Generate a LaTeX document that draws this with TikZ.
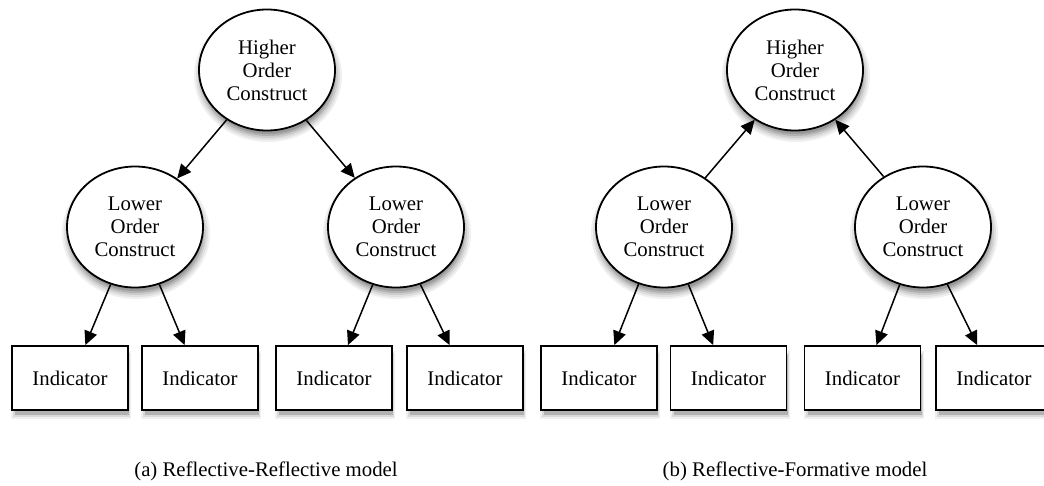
\documentclass[tikz,border=0pt]{standalone}
\usepackage{fontspec}
\setmainfont{Liberation Serif}
\usetikzlibrary{shapes.geometric,arrows.meta}
\begin{document}
\begin{tikzpicture}[x=1pt,y=-1pt,
  font=\fontsize{20.8}{23}\selectfont,
  construct/.style={ellipse,draw=black,line width=1.8pt,fill=white,
    minimum width=136pt,minimum height=121pt,inner sep=0pt,align=center},
  indicator/.style={rectangle,draw=black,line width=1.8pt,fill=white,
    minimum width=116pt,minimum height=64pt,inner sep=0pt},
  link/.style={line width=1.5pt,-{Triangle[length=14pt,width=13pt]}},
  caption/.style={inner sep=0pt}]
\useasboundingbox (0,0) rectangle (1044,485);

% ---------- soft drop shadows (solid greys, light to dark) ----------
% higher order (a)
\fill[black!6]  (268,76) ellipse [x radius=74, y radius=66];
\fill[black!12] (268,76) ellipse [x radius=72, y radius=64];
\fill[black!20] (268,76) ellipse [x radius=70, y radius=62];
\fill[black!30] (268,76) ellipse [x radius=68, y radius=60];
\fill[black!40] (268,76) ellipse [x radius=66, y radius=58];
% lower order (a) left
\fill[black!6]  (136,233) ellipse [x radius=74, y radius=66];
\fill[black!12] (136,233) ellipse [x radius=72, y radius=64];
\fill[black!20] (136,233) ellipse [x radius=70, y radius=62];
\fill[black!30] (136,233) ellipse [x radius=68, y radius=60];
\fill[black!40] (136,233) ellipse [x radius=66, y radius=58];
% lower order (a) right
\fill[black!6]  (397,233) ellipse [x radius=74, y radius=66];
\fill[black!12] (397,233) ellipse [x radius=72, y radius=64];
\fill[black!20] (397,233) ellipse [x radius=70, y radius=62];
\fill[black!30] (397,233) ellipse [x radius=68, y radius=60];
\fill[black!40] (397,233) ellipse [x radius=66, y radius=58];
% higher order (b)
\fill[black!6]  (796,76) ellipse [x radius=74, y radius=66];
\fill[black!12] (796,76) ellipse [x radius=72, y radius=64];
\fill[black!20] (796,76) ellipse [x radius=70, y radius=62];
\fill[black!30] (796,76) ellipse [x radius=68, y radius=60];
\fill[black!40] (796,76) ellipse [x radius=66, y radius=58];
% lower order (b) left
\fill[black!6]  (665,233) ellipse [x radius=74, y radius=66];
\fill[black!12] (665,233) ellipse [x radius=72, y radius=64];
\fill[black!20] (665,233) ellipse [x radius=70, y radius=62];
\fill[black!30] (665,233) ellipse [x radius=68, y radius=60];
\fill[black!40] (665,233) ellipse [x radius=66, y radius=58];
% lower order (b) right
\fill[black!6]  (924,233) ellipse [x radius=74, y radius=66];
\fill[black!12] (924,233) ellipse [x radius=72, y radius=64];
\fill[black!20] (924,233) ellipse [x radius=70, y radius=62];
\fill[black!30] (924,233) ellipse [x radius=68, y radius=60];
\fill[black!40] (924,233) ellipse [x radius=66, y radius=58];
% indicator boxes
\fill[black!6]  (11,351) rectangle (131,419);
\fill[black!15] (13,353) rectangle (130,417);
\fill[black!30] (15,355) rectangle (129,415);
\fill[black!6]  (141,351) rectangle (261,419);
\fill[black!15] (143,353) rectangle (260,417);
\fill[black!30] (145,355) rectangle (259,415);
\fill[black!6]  (275,351) rectangle (395,419);
\fill[black!15] (277,353) rectangle (394,417);
\fill[black!30] (279,355) rectangle (393,415);
\fill[black!6]  (406,351) rectangle (526,419);
\fill[black!15] (408,353) rectangle (525,417);
\fill[black!30] (410,355) rectangle (524,415);
\fill[black!6]  (540,351) rectangle (660,419);
\fill[black!15] (542,353) rectangle (659,417);
\fill[black!30] (544,355) rectangle (658,415);
\fill[black!6]  (669.5,351) rectangle (789.5,419);
\fill[black!15] (671.5,353) rectangle (788.5,417);
\fill[black!30] (673.5,355) rectangle (787.5,415);
\fill[black!6]  (803.5,351) rectangle (923.5,419);
\fill[black!15] (805.5,353) rectangle (922.5,417);
\fill[black!30] (807.5,355) rectangle (921.5,415);
\fill[black!6]  (935,351) rectangle (1044,419);
\fill[black!15] (937,353) rectangle (1044,417);
\fill[black!30] (939,355) rectangle (1044,415);

% ---------- (a) Reflective-Reflective ----------
\node[construct] (ha) at (267,70) {Higher\\Order\\Construct};
\node[construct] (la1) at (135,227) {Lower\\Order\\Construct};
\node[construct] (la2) at (396,227) {Lower\\Order\\Construct};
\node[indicator] (ba1) at (70,378) {Indicator};
\node[indicator] (ba2) at (200,378) {Indicator};
\node[indicator] (ba3) at (334,378) {Indicator};
\node[indicator] (ba4) at (465,378) {Indicator};

\draw[link] (ha.231) -- (la1.49);
\draw[link] (ha.308) -- (la2.130);
\draw[link] (la1.247) -- (ba1.65);
\draw[link] (la1.293) -- (ba2.115);
\draw[link] (la2.248) -- (ba3.67);
\draw[link] (la2.293) -- (ba4.115);

\node[caption] (capa) at (266,471) {(a) Reflective-Reflective model};

% ---------- (b) Reflective-Formative ----------
\node[construct] (hb) at (795,70) {Higher\\Order\\Construct};
\node[construct] (lb1) at (664,227) {Lower\\Order\\Construct};
\node[construct] (lb2) at (923,227) {Lower\\Order\\Construct};
\node[indicator] (bb1) at (599,378) {Indicator};
\node[indicator] (bb2) at (728.5,378) {Indicator};
\node[indicator] (bb3) at (862.5,378) {Indicator};
\node[indicator] (bb4) at (994,378) {Indicator};

\draw[link] (lb1.50) -- (hb.231);
\draw[link] (lb2.128) -- (hb.309);
\draw[link] (lb1.246) -- (bb1.65);
\draw[link] (lb1.293) -- (bb2.115);
\draw[link] (lb2.248) -- (bb3.67);
\draw[link] (lb2.293) -- (bb4.117);

\node[caption] (capb) at (795,471) {(b) Reflective-Formative model};
\end{tikzpicture}
\end{document}
